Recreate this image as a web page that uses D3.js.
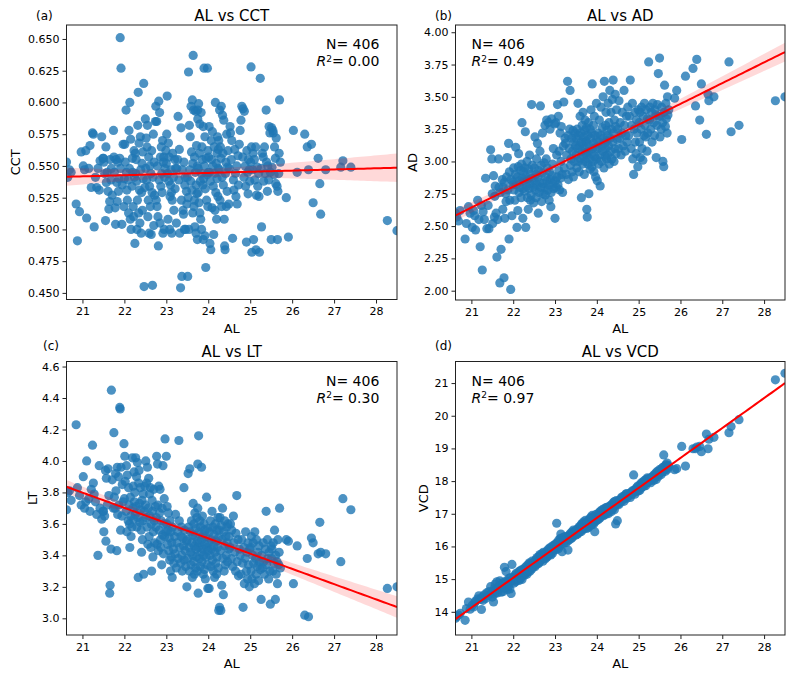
<!DOCTYPE html>
<html>
<head>
<meta charset="utf-8">
<script src="https://cdn.jsdelivr.net/npm/d3@7"></script>
<style>
  body { margin: 0; background: #fff; }
  svg text { font-family: "DejaVu Sans", sans-serif; fill: #000; }
</style>
</head>
<body>
<div id="chart"></div>
<script>
// axial length (x of every panel), one line per AL range, sorted
const al = [
  20.62, 20.65, 20.69, 20.73, 20.85, 20.88, 20.93, 20.97,
  21.02, 21.05, 21.08, 21.1, 21.15, 21.18, 21.21, 21.24,
  21.26, 21.28, 21.31, 21.34, 21.37, 21.4, 21.42, 21.46, 21.49,
  21.5, 21.51, 21.53, 21.55, 21.56, 21.57, 21.59, 21.61, 21.63, 21.65, 21.66, 21.68, 21.69, 21.71, 21.74,
  21.75, 21.76, 21.78, 21.79, 21.8, 21.82, 21.83, 21.84, 21.86, 21.87, 21.89, 21.9, 21.91, 21.92, 21.94, 21.95, 21.97, 21.99,
  22.0, 22.01, 22.02, 22.04, 22.05, 22.06, 22.07, 22.09, 22.1, 22.11, 22.12, 22.13, 22.14, 22.15, 22.16, 22.18, 22.19, 22.2, 22.21, 22.22, 22.23, 22.24,
  22.25, 22.26, 22.27, 22.28, 22.29, 22.3, 22.31, 22.32, 22.33, 22.34, 22.35, 22.36, 22.37, 22.38, 22.39, 22.4, 22.41, 22.42, 22.43, 22.44, 22.45, 22.46, 22.47, 22.49,
  22.5, 22.51, 22.52, 22.53, 22.54, 22.55, 22.56, 22.57, 22.58, 22.59, 22.6, 22.61, 22.62, 22.63, 22.64, 22.65, 22.66, 22.67, 22.68, 22.69, 22.7, 22.71, 22.72, 22.74,
  22.75, 22.76, 22.77, 22.78, 22.79, 22.8, 22.81, 22.82, 22.83, 22.84, 22.85, 22.86, 22.87, 22.88, 22.89, 22.9, 22.91, 22.92, 22.93, 22.94, 22.95, 22.96, 22.97, 22.99,
  23.0, 23.01, 23.02, 23.03, 23.04, 23.05, 23.06, 23.07, 23.08, 23.09, 23.1, 23.11, 23.12, 23.13, 23.14, 23.15, 23.17, 23.18, 23.2, 23.21, 23.22, 23.24,
  23.25, 23.27, 23.28, 23.3, 23.31, 23.32, 23.34, 23.35, 23.36, 23.37, 23.38, 23.4, 23.41, 23.42, 23.43, 23.44, 23.45, 23.46, 23.48, 23.49,
  23.5, 23.51, 23.52, 23.53, 23.54, 23.55, 23.56, 23.57, 23.58, 23.59, 23.6, 23.61, 23.62, 23.63, 23.63, 23.64, 23.65, 23.66, 23.67, 23.67, 23.68, 23.69, 23.7, 23.71, 23.71, 23.72, 23.73, 23.74, 23.74, 23.75,
  23.75, 23.76, 23.76, 23.77, 23.78, 23.79, 23.8, 23.8, 23.81, 23.82, 23.83, 23.84, 23.84, 23.85, 23.86, 23.87, 23.88, 23.88, 23.89, 23.9, 23.91, 23.92, 23.92, 23.93, 23.94, 23.95, 23.96, 23.97, 23.98, 23.99, 23.99, 24.0,
  24.01, 24.02, 24.03, 24.04, 24.05, 24.06, 24.07, 24.08, 24.09, 24.1, 24.11, 24.12, 24.13, 24.14, 24.15, 24.16, 24.17, 24.18, 24.19, 24.2, 24.21, 24.21, 24.22, 24.23, 24.24, 24.24,
  24.25, 24.26, 24.27, 24.28, 24.29, 24.3, 24.31, 24.32, 24.33, 24.34, 24.35, 24.36, 24.37, 24.38, 24.39, 24.4, 24.41, 24.42, 24.43, 24.44, 24.45, 24.46, 24.47, 24.49,
  24.5, 24.52, 24.53, 24.55, 24.56, 24.58, 24.6, 24.61, 24.63, 24.65, 24.66, 24.68, 24.69, 24.71, 24.72, 24.74,
  24.76, 24.78, 24.8, 24.82, 24.83, 24.85, 24.86, 24.88, 24.89, 24.91, 24.92, 24.94, 24.95, 24.96, 24.98, 24.99,
  25.01, 25.02, 25.03, 25.04, 25.06, 25.07, 25.08, 25.1, 25.11, 25.13, 25.14, 25.15, 25.17, 25.18, 25.2, 25.21, 25.22, 25.24,
  25.26, 25.27, 25.29, 25.31, 25.32, 25.34, 25.36, 25.38, 25.39, 25.41, 25.42, 25.44, 25.45, 25.47, 25.48, 25.5,
  25.51, 25.52, 25.54, 25.55, 25.57, 25.58, 25.6, 25.61, 25.62, 25.64, 25.65, 25.66, 25.68, 25.69, 25.7, 25.72,
  25.86, 25.91, 26.03, 26.12, 26.3, 26.36, 26.39, 26.46, 26.5, 26.62, 26.66, 26.68, 26.8, 27.16, 27.21, 27.4, 28.27, 28.5
];

const cct = [
  .553, .541, .547, .545, .520, .491, .514, .561,
  .550, .547, .562, .509, .548, .566, .533, .576,
  .575, .502, .541, .533, .548, .531, .554, .573, .556,
  .556, .553, .544, .507, .565, .537, .545, .530, .516, .522, .555, .539, .548, .527, .578,
  .557, .545, .517, .504, .555, .537, .522, .553, .530, .540, .556, .651, .548, .627, .504, .535, .567, .518,
  .540, .567, .553, .594, .545, .531, .523, .539, .513, .578, .548, .600, .508, .571, .500, .534, .556, .545, .518, .510, .562, .541,
  .489, .560, .544, .555, .538, .500, .523, .582, .608, .513, .568, .531, .505, .573, .547, .497, .529, .552, .515, .561, .540, .615, .455, .533,
  .587, .548, .572, .539, .565, .582, .510, .523, .557, .497, .534, .550, .518, .544, .496, .562, .529, .456, .541, .575, .503, .553, .527, .585,
  .597, .523, .585, .518, .550, .510, .487, .601, .539, .592, .505, .557, .534, .565, .544, .529, .570, .497, .553, .557, .500, .541, .548, .562,
  .552, .575, .605, .544, .508, .568, .538, .557, .500, .526, .535, .547, .529, .497, .523, .560, .541, .515, .555, .532, .548, .505,
  .548, .555, .589, .539, .563, .497, .454, .580, .523, .463, .547, .515, .512, .553, .500, .535, .541, .500, .530, .520,
  .541, .463, .525, .624, .500, .582, .547, .573, .538, .597, .561, .531, .602, .552, .513, .637, .594, .518, .557, .523, .502, .545, .593, .535, .497, .566, .528, .492, .550, .587,
  .594, .548, .529, .599, .521, .560, .513, .583, .538, .508, .592, .544, .500, .565, .555, .535, .581, .492, .540, .627, .550, .573, .495, .532, .470, .556, .523, .543, .627, .562, .518, .545,
  .557, .581, .545, .489, .538, .484, .570, .555, .517, .577, .550, .534, .496, .565, .544, .515, .600, .529, .552, .508, .560, .540, .573, .526, .548, .563,
  .570, .547, .594, .523, .565, .556, .597, .518, .541, .590, .560, .535, .586, .508, .487, .484, .544, .553, .518, .575, .530, .549, .562, .520,
  .548, .581, .576, .555, .570, .493, .539, .531, .563, .544, .526, .550, .520, .558, .535, .567,
  .578, .586, .597, .557, .595, .541, .593, .550, .534, .490, .562, .545, .528, .555, .547, .538,
  .553, .628, .565, .482, .547, .560, .492, .555, .539, .565, .484, .527, .549, .534, .544, .526, .482, .619,
  .548, .502, .560, .557, .538, .565, .544, .594, .553, .530, .550, .539, .581, .576, .545, .492,
  .580, .549, .578, .576, .543, .565, .556, .536, .572, .534, .492, .530, .544, .560, .602, .553,
  .525, .494, .578, .545, .575, .565, .547, .567, .521, .556, .536, .512, .547, .549, .554, .549, .507, .499
];

const ad = [
  2.60, 2.57, 2.54, 2.62, 2.40, 2.52, 2.65, 2.60,
  2.49, 2.62, 2.58, 2.47, 2.70, 2.55, 2.34, 2.66,
  2.16, 2.61, 2.55, 2.87, 2.48, 2.66, 2.48, 3.09, 3.02,
  2.75, 2.52, 2.89, 2.57, 2.73, 2.81, 2.60, 2.26, 2.55, 3.02, 2.80, 2.06, 2.76, 2.32, 2.86,
  2.63, 2.80, 2.10, 2.84, 2.56, 2.75, 2.69, 2.88, 3.03, 2.78, 3.14, 2.40, 2.92, 2.70, 2.01, 2.86, 2.58, 2.82,
  2.84, 2.95, 2.78, 2.70, 2.90, 3.11, 2.82, 2.49, 2.88, 2.62, 2.96, 3.06, 2.76, 2.85, 2.80, 2.93, 2.72, 2.98, 3.30, 2.87, 2.56, 2.79,
  2.92, 2.85, 2.77, 2.95, 3.23, 2.49, 2.88, 2.81, 3.00, 2.72, 2.86, 2.63, 2.94, 2.79, 3.05, 2.83, 2.70, 2.90, 2.74, 3.44, 2.87, 2.97, 2.80, 2.68,
  2.85, 2.95, 3.19, 2.78, 2.90, 2.72, 3.02, 2.82, 3.14, 2.88, 2.60, 2.93, 2.76, 2.84, 3.08, 3.43, 2.80, 2.97, 2.69, 2.91, 3.22, 2.83, 2.75, 2.99,
  2.80, 3.28, 2.74, 2.88, 3.02, 3.32, 2.85, 2.95, 2.78, 3.30, 2.82, 2.70, 2.92, 3.25, 2.86, 2.65, 2.76, 3.33, 2.89, 2.98, 2.83, 3.10, 2.79, 3.29,
  2.56, 2.85, 3.30, 2.80, 3.05, 2.88, 3.44, 2.82, 3.35, 2.93, 3.08, 2.78, 3.22, 2.87, 3.00, 3.27, 2.90, 2.76, 3.12, 3.46, 2.95, 3.18,
  3.14, 2.90, 3.05, 3.62, 3.20, 2.86, 3.10, 3.25, 3.55, 2.97, 3.02, 3.18, 2.92, 3.08, 3.24, 2.88, 3.15, 3.00, 3.22, 3.12,
  3.05, 3.18, 2.95, 3.25, 3.10, 3.45, 3.00, 3.20, 2.92, 3.12, 3.35, 3.02, 3.22, 2.72, 3.15, 3.08, 3.28, 2.98, 3.14, 3.38, 3.04, 3.19, 2.90, 3.24, 3.10, 3.32, 3.00, 3.16, 3.07, 3.26,
  3.15, 2.63, 3.05, 2.57, 3.20, 2.98, 3.30, 3.08, 2.75, 3.12, 3.02, 3.25, 2.94, 3.18, 3.40, 3.06, 3.22, 2.96, 3.60, 3.10, 3.00, 3.28, 3.14, 2.92, 3.35, 3.04, 3.20, 2.88, 3.11, 3.45, 3.02, 3.16,
  2.85, 3.10, 3.22, 2.98, 3.15, 3.32, 3.05, 2.81, 3.20, 3.42, 3.00, 3.12, 3.26, 3.08, 3.50, 3.18, 2.95, 3.62, 3.14, 3.04, 3.28, 3.10, 3.38, 3.02, 3.24, 3.16,
  3.20, 3.05, 3.45, 3.12, 3.30, 2.98, 3.55, 3.18, 3.08, 3.38, 3.25, 3.02, 3.48, 3.15, 3.63, 3.22, 3.00, 3.32, 3.10, 3.52, 3.27, 3.06, 3.40, 3.17,
  3.25, 3.10, 3.47, 3.18, 3.30, 3.05, 3.22, 3.38, 3.12, 3.55, 3.28, 3.08, 3.20, 3.35, 3.15, 3.42,
  3.20, 3.35, 3.63, 3.10, 3.28, 3.45, 3.02, 2.90, 3.25, 3.38, 3.15, 3.06, 3.32, 3.22, 2.96, 3.40,
  3.30, 3.15, 3.38, 3.03, 3.25, 3.42, 3.10, 3.01, 3.35, 3.20, 3.45, 3.28, 3.19, 3.40, 3.08, 3.33, 3.22, 3.77,
  3.32, 3.42, 3.25, 3.38, 3.15, 3.45, 3.30, 3.20, 3.40, 3.36, 3.03, 3.28, 3.44, 3.68, 3.35, 3.80,
  3.19, 3.35, 3.25, 3.42, 3.30, 3.00, 2.96, 3.38, 3.59, 3.27, 3.45, 3.33, 3.22, 3.50, 3.36, 3.40,
  3.49, 3.55, 3.17, 3.66, 3.72, 3.43, 3.79, 3.32, 3.60, 3.21, 3.52, 3.47, 3.50, 3.77, 3.23, 3.28, 3.47, 3.50
];

const lt = [
  3.69, 3.80, 3.81, 3.75, 4.23, 3.83, 3.78, 3.72,
  3.90, 3.70, 3.74, 4.00, 3.76, 3.68, 3.82, 4.10,
  3.86, 3.79, 3.74, 3.66, 3.40, 3.97, 3.70, 3.63, 3.68,
  3.68, 3.55, 3.65, 3.94, 3.49, 3.89, 3.72, 3.95, 3.78, 3.16, 3.21, 3.44, 4.45, 3.88, 3.70,
  4.18, 3.77, 3.70, 3.92, 3.81, 3.43, 3.96, 3.66, 3.90, 3.72, 4.34, 4.33, 3.56, 3.96, 3.65, 3.85, 3.74, 4.11,
  3.76, 4.03, 3.87, 3.68, 3.97, 3.55, 3.91, 3.62, 3.83, 3.72, 3.60, 3.45, 3.77, 3.65, 3.52, 3.58, 4.02, 3.70, 3.84, 3.63, 3.93, 3.74,
  3.80, 3.66, 4.02, 3.71, 3.90, 3.58, 3.99, 3.64, 3.26, 3.86, 3.94, 3.73, 3.61, 3.83, 3.69, 3.56, 3.42, 3.75, 3.50, 3.62, 3.79, 3.28, 3.68, 3.84,
  3.72, 4.00, 3.64, 3.86, 3.58, 3.96, 3.47, 3.70, 3.89, 3.52, 3.79, 3.65, 3.83, 3.45, 3.60, 3.30, 3.75, 3.68, 3.39, 3.55, 3.82, 3.62, 3.48, 3.71,
  3.58, 3.64, 4.03, 3.47, 3.98, 3.72, 3.43, 3.84, 3.56, 3.67, 3.82, 3.50, 3.45, 3.62, 3.34, 3.70, 3.53, 3.97, 3.41, 3.60, 3.76, 3.52, 4.14, 3.55,
  4.03, 3.60, 3.71, 3.47, 3.56, 3.67, 3.43, 3.51, 3.37, 3.62, 3.30, 3.55, 3.39, 3.48, 3.26, 3.58, 3.44, 3.35, 3.52, 3.41, 3.66, 3.32,
  3.48, 3.55, 3.38, 4.13, 3.62, 3.45, 3.35, 3.52, 3.58, 3.40, 3.30, 3.51, 3.46, 3.83, 3.37, 3.56, 3.43, 3.33, 3.49, 3.20,
  3.50, 3.38, 3.92, 3.58, 3.45, 3.30, 3.95, 3.55, 3.42, 3.34, 3.62, 3.48, 3.26, 3.53, 3.40, 3.73, 3.36, 3.60, 3.46, 3.28, 3.67, 3.52, 3.32, 3.44, 3.57, 3.39, 3.64, 3.30, 3.49, 3.98,
  3.70, 3.16, 3.45, 4.16, 3.55, 3.38, 3.62, 3.48, 3.33, 3.58, 3.42, 3.96, 3.50, 3.36, 3.65, 3.44, 3.28, 3.53, 3.40, 3.60, 3.31, 3.47, 3.56, 3.25, 3.52, 3.39, 3.77, 3.45, 3.34, 3.57, 3.19, 3.43,
  3.48, 3.19, 3.55, 3.40, 3.62, 3.33, 3.50, 3.44, 3.68, 3.37, 3.58, 3.30, 3.46, 3.53, 3.26, 3.42, 3.60, 3.35, 3.49, 3.28, 3.56, 3.39, 3.45, 3.64, 3.32, 3.51,
  3.05, 3.56, 3.07, 3.64, 3.43, 3.05, 3.59, 3.21, 3.50, 3.70, 3.38, 3.15, 3.55, 3.30, 3.62, 3.46, 3.34, 3.52, 3.40, 3.58, 3.48, 3.36, 3.60, 3.44,
  3.52, 3.45, 3.60, 3.38, 3.56, 3.33, 3.65, 3.48, 3.42, 3.30, 3.54, 3.78, 3.36, 3.50, 3.27, 3.44,
  3.40, 3.28, 3.50, 3.35, 3.07, 3.45, 3.22, 3.38, 3.55, 3.30, 3.42, 3.25, 3.48, 3.34, 3.20, 3.44,
  3.45, 3.30, 3.52, 3.25, 3.40, 3.48, 3.35, 3.22, 3.55, 3.38, 3.28, 3.50, 3.33, 3.42, 3.24, 3.46, 3.36, 3.31,
  3.12, 3.40, 3.32, 3.48, 3.36, 3.28, 3.44, 3.68, 3.34, 3.50, 3.38, 3.25, 3.42, 3.30, 3.09, 3.46,
  3.38, 3.44, 3.30, 3.48, 3.35, 3.56, 3.12, 3.40, 3.28, 3.36, 3.22, 3.50, 3.34, 3.42, 3.70, 3.32,
  3.50, 3.49, 3.22, 3.46, 3.02, 3.38, 3.01, 3.51, 3.48, 3.41, 3.61, 3.42, 3.41, 3.36, 3.76, 3.69, 3.19, 3.20
];

const vcd = [
  13.80, 13.85, 13.90, 13.95, 13.74, 14.10, 14.30, 14.08,
  14.20, 14.15, 14.28, 14.33, 14.40, 14.49, 14.38, 14.07,
  14.45, 14.35, 14.52, 14.41, 14.58, 14.50, 14.62, 14.77, 14.55,
  14.45, 14.62, 14.30, 14.71, 14.55, 14.85, 14.66, 14.92, 14.58, 14.77, 14.70, 14.95, 14.81, 14.60, 14.88,
  14.80, 14.62, 14.90, 15.36, 14.72, 14.85, 15.23, 14.95, 14.68, 14.88, 14.78, 15.02, 14.93, 14.70, 15.05, 14.56, 15.45, 14.98,
  14.95, 15.05, 14.88, 15.12, 15.00, 14.92, 15.18, 15.08, 14.98, 15.15, 15.03, 15.22, 14.96, 15.10, 15.25, 15.02, 15.16, 15.28, 14.99, 15.20, 15.12, 15.30,
  15.20, 15.28, 15.12, 15.35, 15.18, 15.30, 15.25, 15.40, 15.15, 15.32, 15.22, 15.45, 15.28, 15.38, 15.50, 15.24, 15.42, 15.33, 15.48, 15.30, 15.55, 15.36, 15.44, 15.40,
  15.42, 15.52, 15.38, 15.58, 15.47, 15.60, 15.45, 15.66, 15.50, 15.55, 15.62, 15.48, 15.70, 15.53, 15.75, 15.58, 15.64, 15.72, 15.60, 15.78, 15.66, 15.55, 15.82, 15.68,
  15.65, 15.75, 15.62, 15.80, 15.70, 15.85, 15.68, 15.78, 15.90, 15.72, 15.83, 15.76, 15.95, 15.80, 15.88, 15.74, 15.98, 15.84, 15.92, 15.79, 16.02, 15.88, 15.95, 16.05,
  15.95, 16.05, 15.90, 16.10, 16.71, 15.98, 16.02, 16.12, 15.93, 16.20, 16.08, 16.00, 16.15, 16.25, 16.38, 16.06, 15.84, 16.18, 16.28, 16.10, 16.22, 16.30,
  16.20, 16.12, 16.25, 16.30, 15.89, 16.18, 16.35, 16.28, 16.22, 16.40, 16.33, 16.26, 16.45, 16.38, 16.30, 16.50, 16.42, 16.36, 16.48, 16.44,
  16.35, 16.45, 16.40, 16.52, 16.38, 16.55, 16.42, 16.48, 16.60, 16.44, 16.58, 16.50, 16.66, 16.46, 16.62, 16.54, 16.70, 16.57, 16.63, 16.52, 16.75, 16.60, 16.68, 16.56, 16.72, 16.64, 16.80, 16.59, 16.70, 16.66,
  16.60, 16.70, 16.55, 16.65, 16.75, 16.62, 16.80, 16.58, 16.72, 16.68, 16.85, 16.64, 16.78, 16.70, 16.90, 16.66, 16.82, 16.74, 16.95, 16.72, 16.86, 16.78, 16.68, 16.92, 16.80, 16.45, 16.88, 16.76, 16.98, 16.84, 16.90, 16.82,
  16.88, 16.95, 16.82, 17.00, 16.90, 17.05, 16.86, 16.98, 17.08, 16.92, 17.02, 16.96, 17.12, 16.99, 17.06, 16.94, 17.15, 17.03, 17.10, 16.98, 17.18, 17.06, 17.00, 17.12, 17.20, 17.08,
  17.05, 17.12, 17.00, 17.18, 17.08, 17.22, 17.10, 17.15, 17.25, 17.06, 17.20, 17.28, 17.14, 17.30, 17.18, 17.35, 17.24, 17.12, 17.38, 17.26, 16.69, 17.32, 17.40, 16.79,
  17.30, 17.38, 17.28, 17.42, 17.35, 17.48, 17.40, 17.52, 17.45, 17.38, 17.55, 17.50, 17.60, 17.47, 17.62, 17.55,
  17.55, 17.62, 17.50, 17.66, 17.58, 17.70, 17.64, 18.19, 17.72, 17.60, 17.75, 17.68, 17.80, 17.74, 17.85, 17.70,
  17.75, 17.85, 17.72, 17.90, 17.80, 17.95, 17.82, 17.88, 17.98, 17.85, 18.02, 17.92, 17.86, 18.05, 17.95, 18.10, 17.98, 18.08,
  18.00, 18.08, 17.95, 18.12, 18.05, 18.15, 18.02, 18.20, 18.10, 18.25, 18.05, 18.18, 18.30, 18.14, 18.22, 18.35,
  18.25, 18.32, 18.20, 18.38, 18.28, 18.42, 18.80, 18.35, 18.45, 18.30, 18.50, 18.40, 18.55, 18.36, 18.48, 18.44,
  18.35, 18.38, 19.06, 18.46, 18.99, 18.99, 19.04, 19.06, 18.90, 19.44, 18.99, 19.28, 19.34, 19.48, 19.67, 19.88, 21.10, 21.30
];

// tick labels
const alTicks = [21, 22, 23, 24, 25, 26, 27, 28];
const cctTicks = [0.45, 0.475, 0.5, 0.525, 0.55, 0.575, 0.6, 0.625, 0.65];
const adTicks = [2, 2.25, 2.5, 2.75, 3, 3.25, 3.5, 3.75, 4];
const ltTicks = [3.0, 3.2, 3.4, 3.6, 3.8, 4.0, 4.2, 4.4, 4.6];
const vcdTicks = [14, 15, 16, 17, 18, 19, 20, 21];

const nLabel = "406";
const r2Labels = ["0.00", "0.49", "0.30", "0.97"];

const n = Math.min(al.length, cct.length, ad.length, lt.length, vcd.length);
if (n !== al.length || n !== vcd.length) console.log("length mismatch", al.length, cct.length, ad.length, lt.length, vcd.length);

const width = 794;
const height = 680;

const panels = [
  { tag: "(a)", title: "AL vs CCT", name: "CCT", values: cct, ticks: cctTicks, fmt: ".3f", r2: r2Labels[0],
    box: [66.5, 25, 397, 299.5], yDomain: [0.4448, 0.661], yLabelX: 20, tagX: 36, tagY: 20, statsRight: true },
  { tag: "(b)", title: "AL vs AD", name: "AD", values: ad, ticks: adTicks, fmt: ".2f", r2: r2Labels[1],
    box: [455.5, 25, 785, 300], yDomain: [1.928, 4.056], yLabelX: 417, tagX: 435, tagY: 20, statsRight: false },
  { tag: "(c)", title: "AL vs LT", name: "LT", values: lt, ticks: ltTicks, fmt: ".1f", r2: r2Labels[2],
    box: [66.5, 361.5, 397, 635], yDomain: [2.894, 4.632], yLabelX: 36.5, tagX: 43, tagY: 350, statsRight: true },
  { tag: "(d)", title: "AL vs VCD", name: "VCD", values: vcd, ticks: vcdTicks, fmt: "d", r2: r2Labels[3],
    box: [455.5, 361.5, 785, 635], yDomain: [13.29, 21.66], yLabelX: 427.5, tagX: 435, tagY: 350, statsRight: false }
];

const svg = d3.select("#chart")
  .append("svg")
  .attr("width", width)
  .attr("height", height);

svg.append("rect").attr("width", width).attr("height", height).attr("fill", "#fff");

// least squares fit with 95% band for the mean
function fitLine(xs, ys) {
  const m = xs.length;
  const mx = d3.mean(xs);
  const my = d3.mean(ys);
  let sxx = 0, sxy = 0;
  for (let i = 0; i < m; i++) {
    sxx += (xs[i] - mx) ** 2;
    sxy += (xs[i] - mx) * (ys[i] - my);
  }
  const b = sxy / sxx;
  const a = my - b * mx;
  let sse = 0;
  for (let i = 0; i < m; i++) sse += (ys[i] - a - b * xs[i]) ** 2;
  const s = Math.sqrt(sse / (m - 2));
  return {
    f: v => a + b * v,
    ci: v => 1.966 * s * Math.sqrt(1 / m + (v - mx) ** 2 / sxx)
  };
}

const xs = al.slice(0, n);

panels.forEach((p, k) => {
  const [x0, y0, x1, y1] = p.box;
  const ys = p.values.slice(0, n);

  const x = d3.scaleLinear().domain(d3.extent(xs)).range([x0, x1]);
  const y = d3.scaleLinear().domain(p.yDomain).range([y1, y0]);

  const g = svg.append("g");

  g.append("clipPath")
    .attr("id", "clip" + k)
    .append("rect")
    .attr("x", x0).attr("y", y0)
    .attr("width", x1 - x0).attr("height", y1 - y0);

  const plot = g.append("g").attr("clip-path", `url(#clip${k})`);

  plot.selectAll("circle")
    .data(d3.range(n))
    .join("circle")
    .attr("cx", i => x(xs[i]))
    .attr("cy", i => y(ys[i]))
    .attr("r", 4.6)
    .attr("fill", "#1f77b4")
    .attr("fill-opacity", 0.8);

  const fit = fitLine(xs, ys);
  const [d0, d1] = x.domain();
  const grid = d3.range(101).map(j => d0 + (d1 - d0) * j / 100);

  plot.append("path")
    .datum(grid)
    .attr("d", d3.area()
      .x(v => x(v))
      .y0(v => y(fit.f(v) - fit.ci(v)))
      .y1(v => y(fit.f(v) + fit.ci(v))))
    .attr("fill", "#ff0000")
    .attr("fill-opacity", 0.15);

  plot.append("path")
    .datum(grid)
    .attr("d", d3.line().x(v => x(v)).y(v => y(fit.f(v))))
    .attr("fill", "none")
    .attr("stroke", "#ff0000")
    .attr("stroke-width", 2);

  // axes
  const xAxis = g.append("g")
    .attr("transform", `translate(0,${y1})`)
    .call(d3.axisBottom(x).tickValues(alTicks).tickFormat(d3.format("d")).tickSize(4).tickSizeOuter(0).tickPadding(4));
  const yAxis = g.append("g")
    .attr("transform", `translate(${x0},0)`)
    .call(d3.axisLeft(y).tickValues(p.ticks).tickFormat(d3.format(p.fmt)).tickSize(4).tickSizeOuter(0).tickPadding(3));

  [xAxis, yAxis].forEach(ax => {
    ax.select(".domain").remove();
    ax.attr("font-size", 11).attr("font-family", "DejaVu Sans");
    ax.selectAll("line").attr("stroke", "#222");
  });

  g.append("rect")
    .attr("x", x0).attr("y", y0)
    .attr("width", x1 - x0).attr("height", y1 - y0)
    .attr("fill", "none")
    .attr("stroke", "#222")
    .attr("stroke-width", 1);

  // titles and labels
  g.append("text")
    .attr("x", (x0 + x1) / 2)
    .attr("y", y0 - 4.5)
    .attr("text-anchor", "middle")
    .style("font-size", "15px")
    .text(p.title);

  g.append("text")
    .attr("x", p.tagX)
    .attr("y", p.tagY)
    .style("font-size", "12px")
    .text(p.tag);

  g.append("text")
    .attr("x", (x0 + x1) / 2)
    .attr("y", y1 + 33)
    .attr("text-anchor", "middle")
    .style("font-size", "13px")
    .text("AL");

  g.append("text")
    .attr("transform", `translate(${p.yLabelX},${(y0 + y1) / 2}) rotate(-90)`)
    .attr("text-anchor", "middle")
    .style("font-size", "13px")
    .text(p.name);

  // N and R^2
  const tx = p.statsRight ? x1 - 17.7 : x0 + 16;
  const anchor = p.statsRight ? "end" : "start";

  g.append("text")
    .attr("x", tx)
    .attr("y", y0 + 24)
    .attr("text-anchor", anchor)
    .style("font-size", "14px")
    .text("N= " + nLabel);

  const r = g.append("text")
    .attr("x", tx)
    .attr("y", y0 + 41)
    .attr("text-anchor", anchor)
    .style("font-size", "14px");
  r.append("tspan").style("font-style", "italic").text("R");
  r.append("tspan").attr("dy", -4.5).style("font-size", "9px").text("2");
  r.append("tspan").attr("dy", 4.5).text("= " + p.r2);
});
</script>
</body>
</html>
